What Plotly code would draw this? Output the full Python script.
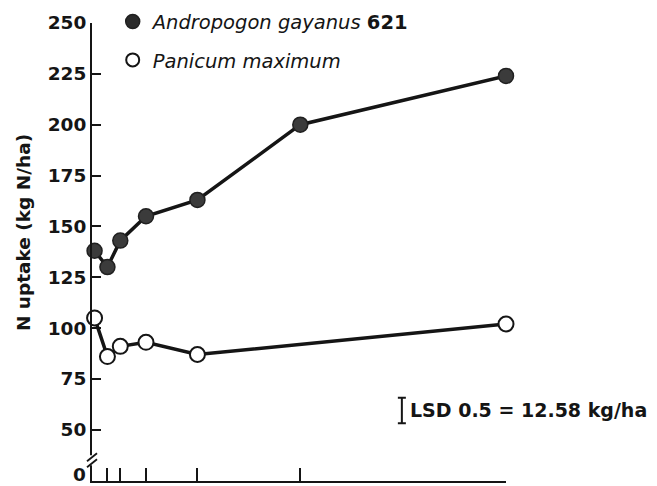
import plotly.graph_objects as go

# Harvest interval data: N uptake (kg N/ha) for two grasses
x_andropogon = [0, 1, 2, 4, 8, 16, 32]
y_andropogon = [138, 130, 143, 155, 163, 200, 224]

x_panicum = [0, 1, 2, 4, 8, 32]
y_panicum = [105, 86, 91, 93, 87, 102]

x_ticks = [1, 2, 4, 8, 16, 32]

# Broken y axis: the baseline (drawn at 25) is labelled 0
y_tickvals = [25, 50, 75, 100, 125, 150, 175, 200, 225, 250]
y_ticktext = ["0", "50", "75", "100", "125", "150", "175", "200", "225", "250"]

lsd_value = 12.58

FONT = "DejaVu Sans"
INK = "#151515"

fig = go.Figure()

fig.add_trace(go.Scatter(
    x=x_andropogon, y=y_andropogon, mode="lines+markers",
    line=dict(color=INK, width=3.5),
    marker=dict(size=15, color="#3b3b3b", line=dict(color="#202020", width=1.5)),
    showlegend=False, cliponaxis=False,
))
fig.add_trace(go.Scatter(
    x=x_panicum, y=y_panicum, mode="lines+markers",
    line=dict(color=INK, width=3.5),
    marker=dict(size=15, color="white", line=dict(color=INK, width=2)),
    showlegend=False, cliponaxis=False,
))

# Legend entries (markers only)
fig.add_trace(go.Scatter(
    x=[None], y=[None], mode="markers",
    marker=dict(size=14, color="#2a2a2a", line=dict(color="#202020", width=1.5)),
    name="<i>Andropogon gayanus</i> <b>621</b>", legendgroup="a",
))
fig.add_trace(go.Scatter(
    x=[None], y=[None], mode="markers",
    marker=dict(size=13, color="white", line=dict(color=INK, width=2)),
    name="<i>Panicum maximum</i>", legendgroup="b",
))

# LSD bar
lsd_x = 23.9
lsd_center = 59.5
fig.add_trace(go.Scatter(
    x=[lsd_x], y=[lsd_center], mode="markers",
    marker=dict(size=1, color="rgba(0,0,0,0)"),
    error_y=dict(type="constant", value=lsd_value / 2, width=4,
                 thickness=2, color=INK),
    showlegend=False, hoverinfo="skip", cliponaxis=False,
))

fig.add_annotation(
    x=lsd_x, y=lsd_center, xref="x", yref="y",
    xshift=6, xanchor="left", yanchor="middle", showarrow=False,
    text="<b>LSD 0.5 = 12.58 kg/ha</b>",
    font=dict(family=FONT, size=19, color=INK),
)

# Y-axis title
fig.add_annotation(
    x=-0.164, y=0.5415, xref="paper", yref="paper",
    xanchor="center", yanchor="middle", showarrow=False, textangle=-90,
    text="<b>N uptake (kg N/ha)</b>",
    font=dict(family=FONT, size=18.5, color=INK),
)

# Baseline label, nudged up so it stays inside the page
fig.add_annotation(
    x=0, y=0, xref="paper", yref="paper",
    xanchor="right", yanchor="bottom", xshift=-4, yshift=-6,
    showarrow=False, text="<b>%s</b>" % y_ticktext[0],
    font=dict(family=FONT, size=18.5, color=INK),
)

# Axis break marks
fig.add_shape(type="rect", xref="paper", yref="y",
              xsizemode="pixel", ysizemode="pixel", xanchor=0, yanchor=35,
              x0=-3, x1=3, y0=-5, y1=5,
              fillcolor="white", line=dict(width=0))
for dy in (-3, 3):
    fig.add_shape(type="line", xref="paper", yref="y",
                  xsizemode="pixel", ysizemode="pixel", xanchor=0, yanchor=35,
                  x0=-5, x1=5, y0=dy - 4, y1=dy + 4,
                  line=dict(color=INK, width=1.8))

fig.update_layout(
    width=657, height=486,
    margin=dict(l=92, r=151, t=23, b=5, autoexpand=False),
    paper_bgcolor="white", plot_bgcolor="white",
    font=dict(family=FONT, color=INK),
    legend=dict(
        x=0.05, y=1.045, xanchor="left", yanchor="top",
        font=dict(family=FONT, size=19.5, color=INK),
        tracegroupgap=10, bgcolor="rgba(0,0,0,0)",
        traceorder="grouped",
    ),
    xaxis=dict(
        range=[-0.2, 32], showgrid=False, zeroline=False, automargin=False,
        showline=True, linecolor=INK, linewidth=2,
        tickmode="array", tickvals=x_ticks, ticks="inside",
        ticklen=13, tickwidth=2, tickcolor=INK, showticklabels=False,
    ),
    yaxis=dict(
        range=[24.8, 250], showgrid=False, zeroline=False, automargin=False,
        showline=True, linecolor=INK, linewidth=2,
        tickmode="array", tickvals=y_tickvals[1:], ticktext=y_ticktext[1:],
        ticks="inside", ticklen=9, tickwidth=2, tickcolor=INK,
        tickfont=dict(family=FONT, size=18.5, color=INK, weight="bold"),
    ),
)

fig.write_html("out.html")
